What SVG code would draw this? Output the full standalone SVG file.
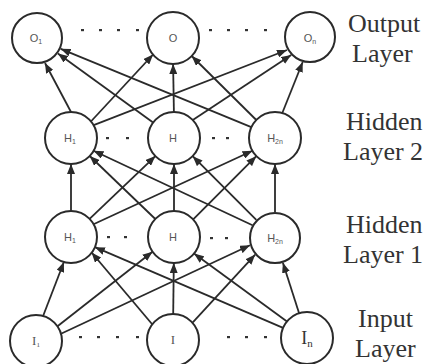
<svg xmlns="http://www.w3.org/2000/svg" width="426" height="364" viewBox="0 0 426 364">
<style>
.n{fill:#fff;stroke:#2a2a2a;stroke-width:2}
.c line{stroke:#2a2a2a;stroke-width:1.8}
.lab{font-family:"Liberation Sans",Arial,sans-serif;font-size:11px;fill:#555;text-anchor:middle}
.sub{font-size:7px}
.lay{font-family:"Liberation Serif","Times New Roman",serif;font-size:26px;fill:#333}
.d{fill:#333}
</style>
<defs>
<marker id="ah" viewBox="0 0 10 8" refX="10" refY="4" markerWidth="10" markerHeight="8" markerUnits="userSpaceOnUse" orient="auto">
<path d="M0,0 L10,4 L0,8 z" fill="#2a2a2a"/>
</marker>
</defs>
<rect width="426" height="364" fill="#fff"/>
<g class="c" id="connectors">
<line x1="71.0" y1="112.0" x2="45.0" y2="63.0" marker-end="url(#ah)"/>
<line x1="90.9" y1="121.5" x2="153.1" y2="54.5" marker-end="url(#ah)"/>
<line x1="93.7" y1="125.1" x2="287.0" y2="50.0" marker-end="url(#ah)"/>
<line x1="153.1" y1="122.5" x2="57.9" y2="53.5" marker-end="url(#ah)"/>
<line x1="173.9" y1="112.0" x2="173.1" y2="64.0" marker-end="url(#ah)"/>
<line x1="192.8" y1="120.0" x2="291.2" y2="55.0" marker-end="url(#ah)"/>
<line x1="251.3" y1="127.2" x2="60.7" y2="48.8" marker-end="url(#ah)"/>
<line x1="256.3" y1="120.0" x2="191.7" y2="56.0" marker-end="url(#ah)"/>
<line x1="282.3" y1="113.0" x2="302.7" y2="62.0" marker-end="url(#ah)"/>
<line x1="71" y1="211" x2="71" y2="164" marker-end="url(#ah)"/>
<line x1="89.6" y1="218.9" x2="155.4" y2="156.1" marker-end="url(#ah)"/>
<line x1="93.5" y1="224.3" x2="252.5" y2="150.7" marker-end="url(#ah)"/>
<line x1="155.3" y1="219.0" x2="89.7" y2="156.0" marker-end="url(#ah)"/>
<line x1="174" y1="211" x2="174" y2="164" marker-end="url(#ah)"/>
<line x1="192.7" y1="219.8" x2="256.3" y2="156.2" marker-end="url(#ah)"/>
<line x1="252.5" y1="225.3" x2="93.5" y2="150.7" marker-end="url(#ah)"/>
<line x1="256.3" y1="219.8" x2="192.7" y2="156.2" marker-end="url(#ah)"/>
<line x1="275" y1="212" x2="275" y2="164" marker-end="url(#ah)"/>
<line x1="43.1" y1="316.0" x2="63.9" y2="262.0" marker-end="url(#ah)"/>
<line x1="57.5" y1="326.3" x2="152.5" y2="251.7" marker-end="url(#ah)"/>
<line x1="61.0" y1="333.7" x2="250.0" y2="245.3" marker-end="url(#ah)"/>
<line x1="152.4" y1="324.5" x2="91.6" y2="252.5" marker-end="url(#ah)"/>
<line x1="173.2" y1="314.0" x2="173.8" y2="263.0" marker-end="url(#ah)"/>
<line x1="192.8" y1="322.4" x2="255.2" y2="254.6" marker-end="url(#ah)"/>
<line x1="283.1" y1="327.8" x2="94.9" y2="247.2" marker-end="url(#ah)"/>
<line x1="287.0" y1="321.4" x2="194.0" y2="253.6" marker-end="url(#ah)"/>
<line x1="299.1" y1="313.2" x2="282.9" y2="262.8" marker-end="url(#ah)"/>
</g>
<g id="dots">
<rect class="d" x="81" y="29" width="3" height="2.2"/>
<rect class="d" x="99" y="29" width="3" height="2.2"/>
<rect class="d" x="117" y="29" width="3" height="2.2"/>
<rect class="d" x="136" y="29" width="3" height="2.2"/>
<rect class="d" x="209" y="29" width="3" height="2.2"/>
<rect class="d" x="227" y="29" width="3" height="2.2"/>
<rect class="d" x="245" y="29" width="3" height="2.2"/>
<rect class="d" x="264" y="29" width="3" height="2.2"/>
<rect class="d" x="106" y="137" width="3" height="2.2"/>
<rect class="d" x="126" y="137" width="3" height="2.2"/>
<rect class="d" x="212" y="137" width="3" height="2.2"/>
<rect class="d" x="226" y="137" width="3" height="2.2"/>
<rect class="d" x="107" y="236" width="3" height="2.2"/>
<rect class="d" x="124" y="236" width="3" height="2.2"/>
<rect class="d" x="210" y="237" width="3" height="2.2"/>
<rect class="d" x="225" y="237" width="3" height="2.2"/>
<rect class="d" x="79" y="336" width="3" height="2.2"/>
<rect class="d" x="97" y="336" width="3" height="2.2"/>
<rect class="d" x="116" y="336" width="3" height="2.2"/>
<rect class="d" x="136" y="336" width="3" height="2.2"/>
<rect class="d" x="227" y="336" width="3" height="2.2"/>
<rect class="d" x="245" y="336" width="3" height="2.2"/>
<rect class="d" x="264" y="336" width="3" height="2.2"/>
</g>
<g id="o1"><circle class="n" cx="37" cy="38" r="25"/><text class="lab" x="36" y="42">O<tspan class="sub" dy="2">1</tspan></text></g>
<g id="o2"><circle class="n" cx="173" cy="38" r="26"/><text class="lab" x="173" y="42">O</text></g>
<g id="o3"><circle class="n" cx="310" cy="37" r="25"/><text class="lab" x="310" y="42">O<tspan class="sub" dy="2">n</tspan></text></g>
<g id="h21"><circle class="n" cx="71" cy="138" r="26"/><text class="lab" x="70" y="142">H<tspan class="sub" dy="2">1</tspan></text></g>
<g id="h22"><circle class="n" cx="174" cy="138" r="26"/><text class="lab" x="173" y="142">H</text></g>
<g id="h2n"><circle class="n" cx="275" cy="138" r="26"/><text class="lab" x="275" y="142">H<tspan class="sub" dy="2">2n</tspan></text></g>
<g id="h11"><circle class="n" cx="71" cy="237" r="26"/><text class="lab" x="70" y="241">H<tspan class="sub" dy="2">1</tspan></text></g>
<g id="h12"><circle class="n" cx="174" cy="237" r="26"/><text class="lab" x="173" y="241">H</text></g>
<g id="h1n"><circle class="n" cx="275" cy="238" r="25"/><text class="lab" x="275" y="242">H<tspan class="sub" dy="2">2n</tspan></text></g>
<g id="i1"><circle class="n" cx="36" cy="341" r="26"/><text class="lab" x="36" y="345" style="font-size:13px;font-family:'Liberation Serif',serif">I<tspan class="sub" dy="2">1</tspan></text></g>
<g id="i2"><circle class="n" cx="173" cy="340" r="26"/><text class="lab" x="173" y="344" style="font-size:13px;font-family:'Liberation Serif',serif">I</text></g>
<g id="in"><circle class="n" cx="307" cy="338" r="26"/><text class="lab" x="307" y="344" style="font-size:18px;font-family:'Liberation Serif',serif;fill:#333">I<tspan style="font-size:11px" dy="3">n</tspan></text></g>
<g id="labels">
<text class="lay" x="348" y="32">Output</text>
<text class="lay" x="352" y="62">Layer</text>
<text class="lay" x="346" y="130">Hidden</text>
<text class="lay" x="343" y="160">Layer 2</text>
<text class="lay" x="346" y="233">Hidden</text>
<text class="lay" x="343" y="263">Layer 1</text>
<text class="lay" x="358" y="327">Input</text>
<text class="lay" x="355" y="357">Layer</text>
</g>
</svg>
